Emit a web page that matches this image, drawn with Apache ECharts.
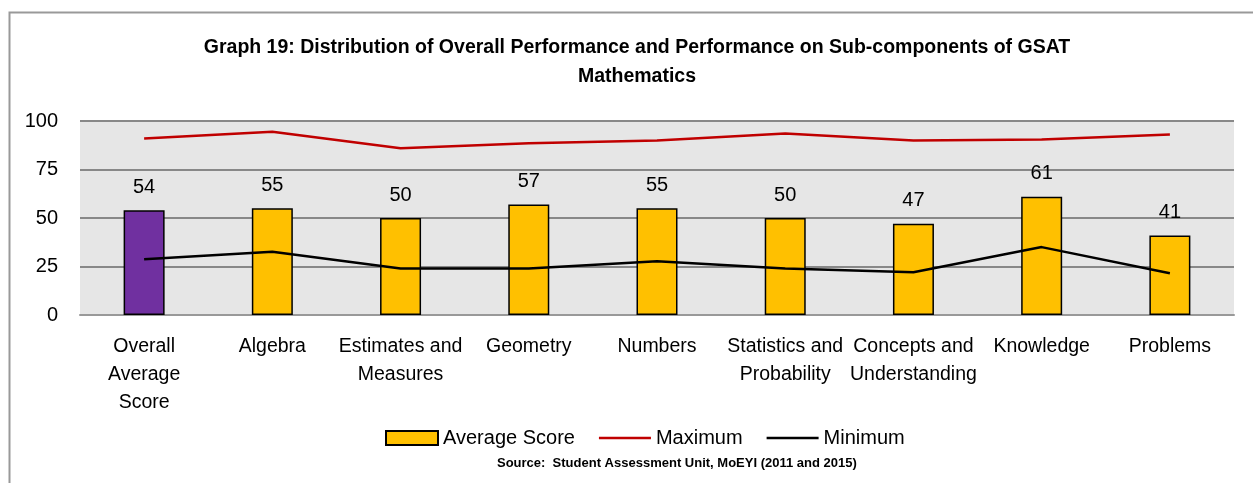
<!DOCTYPE html>
<html>
<head>
<meta charset="utf-8">
<script src="https://cdn.jsdelivr.net/npm/echarts@6/dist/echarts.min.js"></script>
<style>
  html, body { margin: 0; padding: 0; background: #fff; }
  #chart { width: 1253px; height: 483px; }
</style>
</head>
<body>
<div id="chart"></div>
<script>
  const categories = ['Overall\nAverage\nScore', 'Algebra', 'Estimates and\nMeasures', 'Geometry', 'Numbers',
    'Statistics and\nProbability', 'Concepts and\nUnderstanding', 'Knowledge', 'Problems'];
  const averageScore = [54, 55, 50, 57, 55, 50, 47, 61, 41];
  const maximum = [91, 94.5, 86, 88.5, 90, 93.5, 90, 90.5, 93];
  const minimum = [28.7, 32.6, 24, 24, 27.7, 24, 22, 35, 21.5];
  const yTicks = [0, 25, 50, 75, 100];

  const font = '"Liberation Sans", Arial, sans-serif';
  // thin line inside a 52x14 box, for the legend of the two line series
  const lineIcon = 'path://M0,0 M0,5.75 L52,5.75 L52,8.25 L0,8.25 Z M52,14';

  const myChart = echarts.init(document.getElementById('chart'));
  const option = {
    textStyle: { fontFamily: font },
    title: {
      text: 'Graph 19: Distribution of Overall Performance and Performance on Sub-components of GSAT\nMathematics',
      left: 632,
      top: 28,
      textAlign: 'center',
      textStyle: { fontFamily: font, fontSize: 19.5, fontWeight: 'bold', color: '#000', lineHeight: 29 }
    },
    graphic: [{
      type: 'polyline',
      shape: { points: [[9.5, 483], [9.5, 12.5], [1253, 12.5]] },
      style: { stroke: '#999', lineWidth: 2, fill: null }
    }, {
      type: 'text',
      left: 497,
      top: 457,
      style: {
        text: 'Source:  Student Assessment Unit, MoEYI (2011 and 2015)',
        font: 'bold 13px ' + font,
        fill: '#000'
      }
    }],
    legend: {
      top: 423,
      left: 380,
      itemWidth: 52,
      itemHeight: 14,
      itemGap: 24,
      textStyle: { fontFamily: font, fontSize: 20, color: '#000' },
      data: [
        { name: 'Average Score', icon: 'rect' },
        { name: 'Maximum', icon: lineIcon },
        { name: 'Minimum', icon: lineIcon }
      ]
    },
    grid: {
      left: 80,
      right: 19,
      top: 121,
      bottom: 168,
      show: true,
      backgroundColor: '#E6E6E6',
      borderWidth: 0
    },
    xAxis: {
      type: 'category',
      data: categories,
      axisTick: { show: false },
      axisLine: { lineStyle: { color: '#999', width: 2 } },
      axisLabel: {
        interval: 0,
        color: '#000',
        fontSize: 19.5,
        lineHeight: 28,
        margin: 18,
        fontFamily: font
      }
    },
    yAxis: {
      type: 'value',
      min: yTicks[0],
      max: yTicks[yTicks.length - 1],
      interval: 25,
      axisLine: { show: false },
      axisTick: { show: false },
      axisLabel: { color: '#000', fontSize: 20, margin: 22, fontFamily: font },
      splitLine: { lineStyle: { color: '#888', width: 2 } }
    },
    series: [{
      name: 'Average Score',
      type: 'bar',
      barWidth: 41,
      data: averageScore.map((v, i) => i === 0 ? { value: v, itemStyle: { color: '#7030A0' } } : v),
      itemStyle: { color: '#FFC000', borderColor: '#000', borderWidth: 1.5 },
      label: {
        show: true,
        position: 'top',
        distance: 13,
        color: '#000',
        fontSize: 20,
        fontFamily: font
      },
      z: 2
    }, {
      name: 'Maximum',
      type: 'line',
      data: maximum,
      symbol: 'none',
      lineStyle: { color: '#C00000', width: 2.5 },
      itemStyle: { color: '#C00000' },
      z: 3
    }, {
      name: 'Minimum',
      type: 'line',
      data: minimum,
      symbol: 'none',
      lineStyle: { color: '#000', width: 2.5 },
      itemStyle: { color: '#000' },
      z: 3
    }]
  };
  myChart.setOption(option);
</script>
</body>
</html>
